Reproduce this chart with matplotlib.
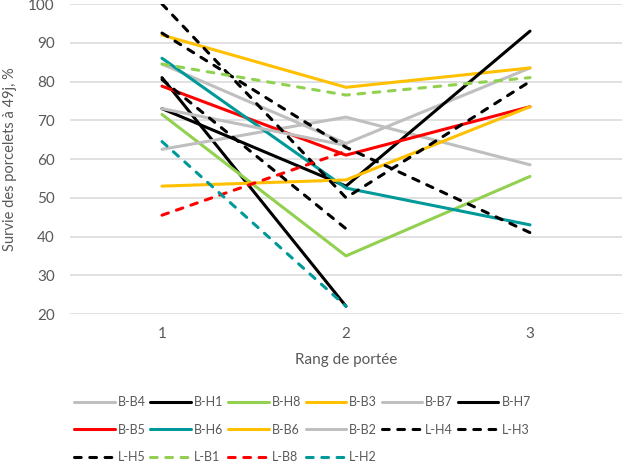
import numpy as np
import matplotlib
matplotlib.use("Agg")
import matplotlib.pyplot as plt

plt.rcParams["font.family"] = ["Lato", "DejaVu Sans"]

# Survie des porcelets par rang de portée
rangs = [1, 2, 3]
nan = np.nan
series = ["B-B4", "B-H1", "B-H8", "B-B3", "B-B7", "B-H7", "B-B5", "B-H6",
          "B-B6", "B-B2", "L-H4", "L-H3", "L-H5", "L-B1", "L-B8", "L-H2"]
b_b4 = [84.5, 64.0, 83.5]
b_h1 = [81.0, 22.0, nan]
b_h8 = [71.5, 35.0, 55.5]
b_b3 = [92.0, 78.5, 83.5]
b_b7 = [62.5, 70.8, 58.5]
b_h7 = [73.0, 53.0, 93.0]
b_b5 = [78.8, 61.0, 73.5]
b_h6 = [86.0, 52.5, 43.0]
b_b6 = [53.0, 54.6, 73.5]
b_b2 = [73.0, 63.5, nan]
l_h4 = [100.0, 50.0, 80.0]
l_h3 = [92.5, 63.0, 41.0]
l_h5 = [80.5, 42.0, nan]
l_b1 = [84.5, 76.5, 81.0]
l_b8 = [45.5, 62.0, nan]
l_h2 = [64.5, 22.0, nan]
values = [b_b4, b_h1, b_h8, b_b3, b_b7, b_h7, b_b5, b_h6,
          b_b6, b_b2, l_h4, l_h3, l_h5, l_b1, l_b8, l_h2]

GRAY, BLACK, GREEN = "#BFBFBF", "#000000", "#92D050"
ORANGE, RED, TEAL = "#FFC000", "#FF0000", "#009999"
colors = [GRAY, BLACK, GREEN, ORANGE, GRAY, BLACK, RED, TEAL,
          ORANGE, GRAY, BLACK, BLACK, BLACK, GREEN, RED, TEAL]
TXT = "#595959"

fig = plt.figure(figsize=(6.29, 4.73), dpi=100)
W, H = 629, 473
ax = fig.add_axes([70 / W, 1 - 314 / H, 552 / W, 310 / H])

handles = []
for name, vals, c in zip(series, values, colors):
    line, = ax.plot(rangs, vals, color=c, lw=2.2, label=name,
                    solid_capstyle="round", dash_capstyle="round",
                    solid_joinstyle="round")
    if name.startswith("L-"):
        line.set_dashes((2.2, 2.8))
    handles.append(line)

ax.set_xlim(0.5, 3.5)
ax.set_ylim(20, 100)
ax.set_yticks(range(20, 101, 10))
ax.set_xticks(rangs)
ax.yaxis.grid(True, color="#D9D9D9", lw=1.1)
ax.set_axisbelow(True)
for s in ax.spines.values():
    s.set_visible(False)
ax.tick_params(length=0, labelsize=11, colors=TXT)
ax.tick_params(axis="y", pad=11)
ax.tick_params(axis="x", pad=9)
ax.set_xlabel("Rang de portée", fontsize=11, color=TXT, labelpad=9)
ax.set_ylabel("Survie des porcelets à 49j, %", fontsize=10.5, color=TXT)
ax.yaxis.set_label_coords((17 - 70) / 552, 0.5)

# legend is filled row by row across 6 columns
ncol = 6
nrows = int(np.ceil(len(handles) / ncol))
order = []
for col in range(ncol):
    for row in range(nrows):
        i = row * ncol + col
        if i < len(handles):
            order.append(i)
leg = fig.legend([handles[i] for i in order], [series[i] for i in order],
                 loc="upper left", bbox_to_anchor=(64 / W, 1 - 386 / H),
                 ncol=ncol, frameon=False, fontsize=9,
                 handlelength=3.25, handletextpad=0.25, columnspacing=0.36,
                 labelspacing=1.25, labelcolor=TXT, borderpad=0.3)

fig.savefig("out.png", dpi=100)
